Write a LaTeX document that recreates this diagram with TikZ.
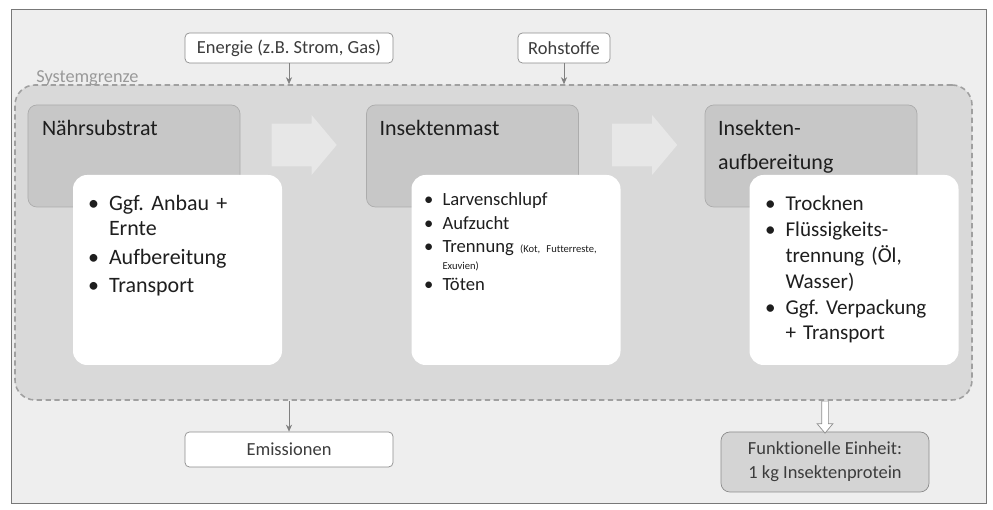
\documentclass[tikz,border=0pt]{standalone}
\usepackage{fontspec}
\setmainfont{Carlito}[Ligatures=NoCommon]
\usepackage{enumitem}
\usepackage{tikz}
\usetikzlibrary{shapes.arrows, arrows.meta, positioning, calc}
\definecolor{framebg}{RGB}{238,238,238}
\definecolor{frameline}{RGB}{120,120,120}
\definecolor{sysbg}{RGB}{217,217,217}
\definecolor{sysline}{RGB}{160,160,160}
\definecolor{stagebg}{RGB}{199,199,199}
\definecolor{stageline}{RGB}{172,172,172}
\definecolor{flowfill}{RGB}{231,231,231}
\definecolor{boxline}{RGB}{140,140,140}
\definecolor{febg}{RGB}{212,212,212}
\definecolor{txtdark}{RGB}{30,30,30}
\definecolor{txtgray}{RGB}{60,60,60}
\tikzstyle{arrow} = [draw=gray, ->, >={Stealth[length=4pt, width=3.5pt]}]
\setlist[itemize]{label=\textbullet, topsep=0pt, partopsep=0pt, parsep=0pt, leftmargin=0.5cm, labelsep=0.2cm, itemsep=1.5pt}
\frenchspacing

\begin{document}
\begin{tikzpicture}[
    inbox/.style={rectangle, rounded corners=2.5pt, draw=boxline, fill=white, minimum width=4.16cm, minimum height=0.6cm, font=\fontsize{10.5}{13.5}\selectfont, text=txtgray},
    sysbox/.style={rectangle, rounded corners=0.4cm, draw=sysline, dash pattern=on 3pt off 2pt, line width=0.9pt, fill=sysbg, minimum width=19.14cm, minimum height=6.3cm},
    stage/.style={rectangle, rounded corners=5pt, draw=stageline, fill=stagebg, minimum width=4.24cm, minimum height=2.04cm},
    stagetitle/.style={anchor=north west, inner sep=0pt, align=left, font=\fontsize{12.5}{19.5}\selectfont, text=txtdark},
    card/.style={rectangle, rounded corners=8pt, fill=white, minimum width=4.18cm, minimum height=3.8cm},
    bullets/.style={anchor=north west, inner sep=0pt, text width=3.8cm, align=left, font=\fontsize{12.5}{14.5}\selectfont, text=txtdark},
    flow/.style={single arrow, fill=flowfill, minimum height=1.3cm, single arrow head extend=0.17cm, single arrow tip angle=100, inner sep=0pt},
    hollow/.style={single arrow, draw=boxline, fill=white, rotate=-90, minimum height=0.64cm, single arrow head extend=0.09cm, single arrow tip angle=80, inner sep=0pt},
]
\useasboundingbox (0,0) rectangle (19.86,10.2);

% Frame
\draw[frameline, fill=framebg] (0.22,0.14) rectangle (19.72,10.02);

% System boundary
\node[sysbox] (sys) at (9.87,5.35) {};
\node[anchor=base west, inner sep=0pt, font=\fontsize{10.4}{12}\selectfont, text=gray!80] (sysname) at (0.72,8.54) {Systemgrenze};

% Inputs
\node[inbox] (energie) at (5.78,9.24) {Energie (z.B. Strom, Gas)};
\node[inbox, minimum width=1.84cm] (rohstoffe) at (11.28,9.24) {Rohstoffe};
\draw[arrow] (energie) -- (energie |- sys.north);
\draw[arrow] (rohstoffe) -- (rohstoffe |- sys.north);

% Stages
\node[stage] (naehr) at (2.68,7.08) {};
\node[stage] (mast) at (9.45,7.08) {};
\node[stage] (aufb) at (16.22,7.08) {};
\node[stagetitle] (naehrT) at ([shift={(0.28,-0.3)}]naehr.north west) {Nährsubstrat};
\node[stagetitle] (mastT) at ([shift={(0.26,-0.3)}]mast.north west) {Insektenmast};
\node[stagetitle] (aufbT) at ([shift={(0.26,-0.3)}]aufb.north west) {Insekten-\\aufbereitung};

% Flow between stages
\node[flow] (flowA) at ($(naehr.east)!0.5!(mast.west)+(-0.16,0.22)$) {\rule{0pt}{0.84cm}};
\node[flow] (flowB) at ($(mast.east)!0.5!(aufb.west)+(-0.12,0.22)$) {\rule{0pt}{0.84cm}};

% Cards with steps
\node[card] (naehrC) at (3.55,4.8) {};
\node[card] (mastC) at (10.32,4.8) {};
\node[card] (aufbC) at (17.08,4.8) {};

\node[bullets] (naehrL) at ([shift={(0.22,-0.2)}]naehrC.north west) {%
  \begin{itemize}
    \item Ggf. Anbau +\\Ernte
    \item Aufbereitung
    \item Transport
  \end{itemize}};
\node[bullets, font=\fontsize{10.6}{12.6}\selectfont] (mastL) at ([shift={(0.2,-0.16)}]mastC.north west) {%
  \begin{itemize}[leftmargin=0.42cm, labelsep=0.18cm, itemsep=1pt]
    \item Larvenschlupf
    \item Aufzucht
    \item Trennung {\fontsize{6}{7}\selectfont (Kot, Futterreste,}\\[-3pt]{\fontsize{6}{7}\selectfont Exuvien)}
    \vspace{-1.8pt}
    \item Töten
  \end{itemize}};
\node[bullets, font=\fontsize{12}{14.7}\selectfont] (aufbL) at ([shift={(0.22,-0.2)}]aufbC.north west) {%
  \begin{itemize}[itemsep=0pt]
    \item Trocknen
    \item Flüssigkeits-\\trennung (Öl,\\Wasser)
    \item Ggf. Verpackung\\+ Transport
  \end{itemize}};

% Outputs
\node[inbox, minimum height=0.7cm] (emis) at (5.78,1.21) {Emissionen};
\draw[arrow] (sys.south -| emis) -- (emis);
\node[inbox, fill=febg, rounded corners=5pt, minimum height=1.2cm, align=center] (fe) at (16.5,0.96) {Funktionelle Einheit:\\1 kg Insektenprotein};
\node[hollow, anchor=tail] (down) at (sys.south -| fe) {\rule{0pt}{0.12cm}};

\end{tikzpicture}
\end{document}
